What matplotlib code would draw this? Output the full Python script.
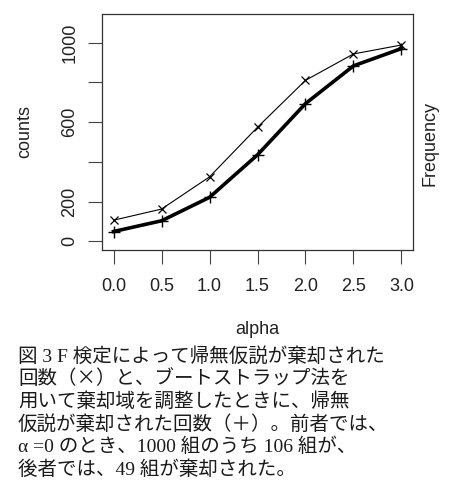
import matplotlib
matplotlib.use("Agg")
import matplotlib.pyplot as plt

# values
alpha = [0.0, 0.5, 1.0, 1.5, 2.0, 2.5, 3.0]
f_test = [106, 162, 324, 574, 810, 943, 988]      # x markers, thin line
bootstrap = [49, 103, 221, 435, 693, 883, 970]    # + markers, thick line
x_ticks = [0.0, 0.5, 1.0, 1.5, 2.0, 2.5, 3.0]
x_ticklabels = ["0.0", "0.5", "1.0", "1.5", "2.0", "2.5", "3.0"]
y_ticks = [0, 200, 400, 600, 800, 1000]
y_ticklabels = ["0", "200", "", "600", "", "1000"]
caption = [
    "図 3 F 検定によって帰無仮説が棄却された",
    "回数（×）と、ブートストラップ法を",
    "用いて棄却域を調整したときに、帰無",
    "仮説が棄却された回数（＋）。前者では、",
    "α =0 のとき、1000 組のうち 106 組が、",
    "後者では、49 組が棄却された。",
]

W, H = 450, 497
fig = plt.figure(figsize=(W / 100, H / 100), dpi=100)
ax = fig.add_axes([102 / W, 1 - 250 / H, (413 - 102) / W, (250 - 14) / H])

ax.plot(alpha, f_test, color="black", lw=0.8, marker="x", ms=6, mew=0.9)
ax.plot(alpha, bootstrap, color="black", lw=2.6, marker="+", ms=9, mew=1.0)

ax.set_xlim(-0.12, 3.12)
ax.set_ylim(-44, 1144)
ax.set_xticks(x_ticks)
ax.set_xticklabels(x_ticklabels)
ax.set_yticks(y_ticks)
ax.set_yticklabels(y_ticklabels, rotation=90, va="center")
for s in ax.spines.values():
    s.set_color("#333333")
    s.set_linewidth(0.9)
ax.tick_params(length=10, width=0.8, color="#444444", labelsize=13,
               labelcolor="#222222")
ax.tick_params(axis="x", pad=10)
ax.tick_params(axis="y", pad=7)
for lab in ax.get_xticklabels() + ax.get_yticklabels():
    lab.set_family("Liberation Sans")

sans = dict(family="Liberation Sans", fontsize=13, color="#222222")
fig.text(25 / W, 1 - 132 / H, "counts", rotation=90, ha="center", va="center", **sans)
fig.text(430 / W, 1 - 143 / H, "Frequency", rotation=90, ha="center", va="center", **sans)
fig.text(257 / W, 1 - 330 / H, "alpha", ha="center", va="center", **sans)

# figure caption, one text per line; the x line takes the CJK font first
y0, dy = 356, 22.7
for i, line in enumerate(caption):
    fam = ["Liberation Serif", "Noto Sans CJK JP"]
    if "×" in line:
        fam = ["Noto Sans CJK JP"]
    fig.text(18 / W, 1 - (y0 + i * dy) / H, line, ha="left", va="center",
             family=fam, fontsize=14, color="#1a1a1a")

fig.savefig("out.png", dpi=100)
